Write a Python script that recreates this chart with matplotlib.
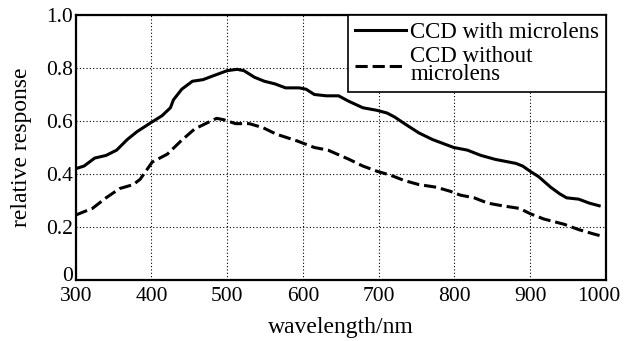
import matplotlib
matplotlib.use("Agg")
import matplotlib.pyplot as plt
from matplotlib.transforms import ScaledTranslation

plt.rcParams['font.family'] = ['Liberation Serif', 'DejaVu Serif']

# solid curve: CCD with microlens
wl_with = [300, 311, 325, 340, 354, 368, 381, 400, 414, 425, 429, 440, 454, 468,
           481, 500, 513, 522, 536, 549, 563, 577, 595, 604, 615, 631, 647, 660,
           679, 698, 711, 721, 734, 753, 771, 799, 817, 835, 854, 881, 890, 900,
           911, 927, 939, 948, 964, 978, 991]
resp_with = [0.42, 0.43, 0.46, 0.47, 0.49, 0.53, 0.56, 0.595, 0.62, 0.65, 0.68, 0.72,
             0.75, 0.756, 0.77, 0.79, 0.795, 0.79, 0.765, 0.75, 0.74, 0.725, 0.725,
             0.72, 0.70, 0.695, 0.695, 0.675, 0.65, 0.64, 0.63, 0.615, 0.59, 0.555,
             0.53, 0.50, 0.49, 0.47, 0.455, 0.44, 0.43, 0.41, 0.39, 0.35, 0.325,
             0.31, 0.305, 0.29, 0.28]

# dashed curve: CCD without microlens
wl_without = [300, 313, 322, 340, 358, 376, 385, 401, 421, 439, 457, 475, 486, 495,
              511, 529, 547, 565, 592, 615, 633, 661, 679, 698, 716, 734, 753, 776,
              794, 808, 826, 844, 863, 886, 900, 918, 945, 964, 982, 995]
resp_without = [0.245, 0.26, 0.27, 0.31, 0.345, 0.36, 0.38, 0.445, 0.475, 0.525, 0.57,
                0.595, 0.61, 0.605, 0.59, 0.59, 0.575, 0.55, 0.525, 0.50, 0.49, 0.455,
                0.43, 0.41, 0.395, 0.375, 0.36, 0.35, 0.335, 0.32, 0.31, 0.29, 0.28,
                0.27, 0.25, 0.23, 0.21, 0.19, 0.175, 0.165]

xticks = [300, 400, 500, 600, 700, 800, 900, 1000]
yticks = [0, 0.2, 0.4, 0.6, 0.8, 1.0]
yticklabels = ['0', '0.2', '0.4', '0.6', '0.8', '1.0']

fig = plt.figure(figsize=(6.26, 3.41), dpi=100)
ax = fig.add_axes([0.121, 0.179, 0.847, 0.777])

ax.plot(wl_with, resp_with, color='black', lw=2.2, label='CCD with microlens')
ax.plot(wl_without, resp_without, color='black', lw=2.2, dashes=(4, 1.6),
        label='CCD without\nmicrolens')

ax.set_xlim(300, 1000)
ax.set_ylim(0, 1.0)
ax.set_xticks(xticks)
ax.set_yticks(yticks)
ax.set_yticklabels(yticklabels)
ax.tick_params(length=0, labelsize=15.5)
ax.tick_params(axis='x', pad=5)
ax.tick_params(axis='y', pad=2)
ax.grid(True, color='black', linestyle=(0, (1, 2)), linewidth=0.8)
for s in ax.spines.values():
    s.set_linewidth(1.6)

# nudge corner labels like the original: "0" up a bit, "1000" inside the figure
lab0 = ax.get_yticklabels()[0]
lab0.set_transform(lab0.get_transform() + ScaledTranslation(0, 4 / 72, fig.dpi_scale_trans))
lab_end = ax.get_xticklabels()[-1]
lab_end.set_transform(lab_end.get_transform() + ScaledTranslation(-7 / 100, 0, fig.dpi_scale_trans))

ax.set_xlabel('wavelength/nm', fontsize=17, labelpad=8)
ax.set_ylabel('relative response', fontsize=17, labelpad=10)

leg = ax.legend(loc='upper right', fontsize=16.5, borderaxespad=0, fancybox=False,
                edgecolor='black', framealpha=1, handlelength=2.2, handletextpad=0.2,
                labelspacing=0.15, borderpad=0.3)
leg.get_frame().set_linewidth(1.2)
for t in leg.get_texts():
    t.set_linespacing(0.8)

plt.savefig('out.png', dpi=100)
